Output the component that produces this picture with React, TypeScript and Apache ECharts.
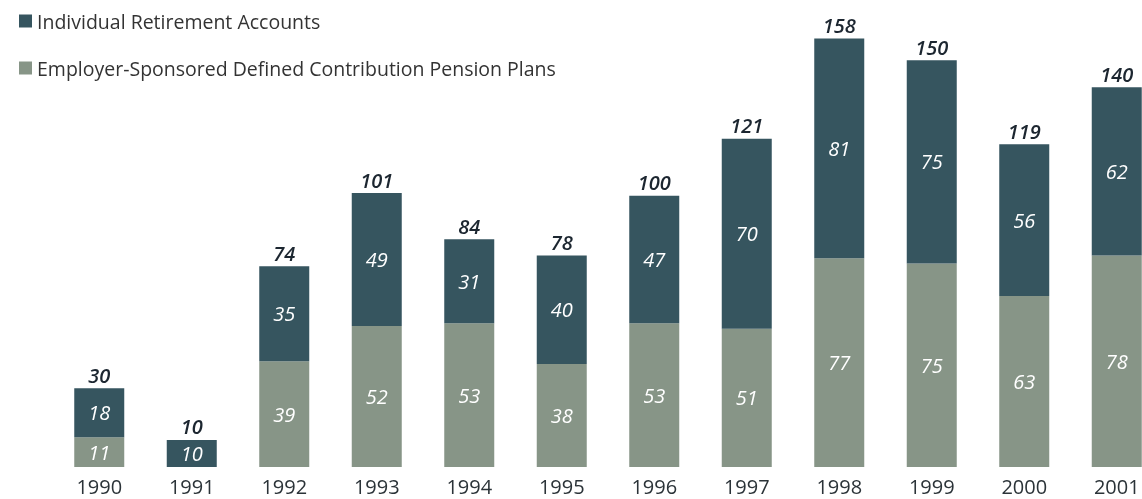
import React, { useEffect, useRef } from "react";
import * as echarts from "echarts";

const years = ["1990", "1991", "1992", "1993", "1994", "1995", "1996", "1997", "1998", "1999", "2000", "2001"];
const employerPlans = [11, null, 39, 52, 53, 38, 53, 51, 77, 75, 63, 78];
const iraValues = [18, 10, 35, 49, 31, 40, 47, 70, 81, 75, 56, 62];
const totals = [30, 10, 74, 101, 84, 78, 100, 121, 158, 150, 119, 140];
const totalAnchor = [0, 0, 0, 0, 0, 0, 0, 0, 0, 0, 0, 0];

const IRA_NAME = "Individual Retirement Accounts";
const EMP_NAME = "Employer-Sponsored Defined Contribution Pension Plans";

export default function App() {
  const ref = useRef<HTMLDivElement>(null);
  useEffect(() => {
    if (!ref.current) return;
    const chart = echarts.init(ref.current, null, { renderer: "svg" });
    const font = "'Open Sans', 'Noto Sans', sans-serif";
    const inner = {
      show: true,
      position: "inside",
      color: "#ffffff",
      fontStyle: "italic",
      fontSize: 20,
      fontFamily: font,
      formatter: (p: any) => (p.value == null || p.value === 0 ? "" : String(p.value)),
    };
    chart.setOption({
      animation: false,
      textStyle: { fontFamily: font },
      grid: { left: 53, top: 33, bottom: 32, right: -21, containLabel: false, outerBoundsMode: "none" },
      legend: {
        data: [IRA_NAME, EMP_NAME],
        orient: "vertical",
        left: 14,
        top: 6,
        itemWidth: 13,
        itemHeight: 13,
        itemGap: 27,
        icon: "rect",
        textStyle: { fontSize: 19.5, color: "#333333", fontFamily: font },
        selectedMode: false,
      },
      xAxis: {
        type: "category",
        data: years,
        axisLine: { show: false },
        axisTick: { show: false },
        axisLabel: { fontSize: 20, color: "#2b3338", margin: 9, fontFamily: font },
      },
      yAxis: {
        type: "value",
        min: 0,
        max: 160,
        show: false,
        splitLine: { show: false },
      },
      series: [
        {
          name: EMP_NAME,
          type: "bar",
          stack: "t",
          barWidth: 50,
          data: employerPlans,
          itemStyle: { color: "#879587" },
          label: inner,
        },
        {
          name: IRA_NAME,
          type: "bar",
          stack: "t",
          barWidth: 50,
          data: iraValues,
          itemStyle: { color: "#36555f" },
          label: inner,
        },
        {
          name: "total",
          type: "bar",
          stack: "t",
          barWidth: 50,
          data: totalAnchor,
          itemStyle: { color: "transparent" },
          label: {
            show: true,
            position: "top",
            distance: 3,
            color: "#1c2630",
            fontStyle: "italic",
            fontWeight: 600,
            fontSize: 20,
            fontFamily: font,
            formatter: (p: any) => String(totals[p.dataIndex]),
          },
        },
      ],
    });
    return () => chart.dispose();
  }, []);
  return <div ref={ref} style={{ position: "fixed", left: 0, top: 0, width: 1142, height: 499 }} />;
}
